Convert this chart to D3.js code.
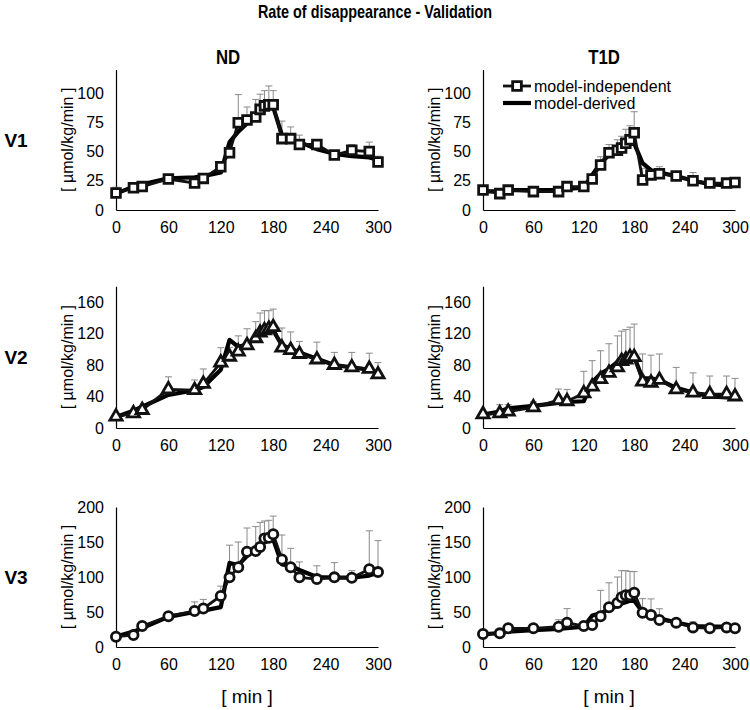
<!DOCTYPE html>
<html>
<head>
<meta charset="utf-8">
<script src="https://cdn.jsdelivr.net/npm/d3@7"></script>
<style>
  html, body { margin: 0; padding: 0; background: #fff; }
  svg { display: block; }
  text { font-family: "Liberation Sans", Arial, sans-serif; fill: #000; }
</style>
</head>
<body>
<svg id="chart" width="750" height="710"></svg>
<script>
// ---------- DATA ----------
const times = [0,20,30,60,90,100,120,130,140,150,160,165,170,175,180,190,200,210,230,250,270,290,300];
const xTicks = [0,60,120,180,240,300];
const rowLabels = ["V1","V2","V3"];
const colLabels = ["ND","T1D"];
const yTicksV1 = [0,25,50,75,100];
const yTicksV2 = [0,40,80,120,160];
const yTicksV3 = [0,50,100,150,200];
const yMax = [120,180,200];
const legendLabels = ["model-independent","model-derived"];

// ND V1
const ndV1Obs   = [14.5,19,20,26.5,23,27,37,49,74.6,77,79.5,86,89,90,90,61,61,56,56,47,51,50,41];
const ndV1Err   = [5,2,2,2,2,2,3,4,24,11,15,13,13,16,12,15,10,8,4,3,5,8,5];
const ndV1Model = [14,20,22,27,28,29,32,58,67,74,80,83,86,88,88,64,60,58,52,48,46,45,43];
// T1D V1
const t1dV1Obs   = [17,14,17,15.7,15.7,20,20,26.5,38.5,49,51,53,57,60,66,25.6,30,31,29,25,23,23,23.6];
const t1dV1Err   = [2,2,2,1,1,2,2,3,7,7,9,10,12,12,18,10,4,6,3,7,2,2,2];
const t1dV1Model = [16,16,17,17,17,18,19,30,40,47,50,52,54,56,57,40,34,32,29,25,22,21,21];
// ND V2
const ndV2Obs   = [14.4,18.6,22.9,49,48,56,83,90.5,97,105,114,121,124,126,128,102,99,94,87,80,77,75,68];
const ndV2Err   = [2,3,3,16,13,19,19,12,20,21,21,25,25,23,23,25,23,16,22,16,19,20,15];
const ndV2Model = [14,22,27,42,48,52,74,112,103,106,115,118,121,123,124,105,101,96,88,80,77,74,70];
// T1D V2
const t1dV2Obs   = [17.4,18.6,20.7,26.2,35.5,34,44,52.5,62,70,77,85,87,90,90,59,57.5,61,49,45,43,43,40];
const t1dV2Err   = [2,11,9,7,14,15,28,33,36,37,40,38,38,38,42,35,35,33,28,25,23,23,23];
const t1dV2Model = [17,21,25,28,32,33,34,58,69,75,84,86,88,89,90,63,63,61,51,45,40,39,38];
// ND V3
const ndV3Obs   = [14.7,17,30,44,51.4,55,73,99.5,114,136,137,143,155,156,161,125,114,99.5,97,99.5,99,111,107];
const ndV3Err   = [2,2,3,3,13,13,14,46,36,34,35,35,25,25,26,35,27,22,19,21,10,55,45];
const ndV3Model = [15,22,27,43,50,52,57,120,117,130,142,146,150,153,154,118,116,110,100,99,99,102,106];
// T1D V3
const t1dV3Obs   = [18.6,19.5,26.7,26.7,29,34.8,30,31.4,44,56.7,63,71,74,74,77.6,49,45.7,38.6,34.8,28,26.7,28,26.7];
const t1dV3Err   = [2,2,2,3,10,20,6,6,37,35,37,38,35,34,30,20,23,16,5,8,3,4,5];
const t1dV3Model = [18,20,22,24,26,27,29,45,48,54,59,62,64,66,66,50,44,41,35,30,29,29,29];

// ---------- LAYOUT ----------
const svg = d3.select("#chart");
const cols = [{x0:116, x1:378}, {x0:483, x1:735}];
const rows = [{bottom:210, top:69.6}, {bottom:428, top:286.25}, {bottom:647, top:507}];
const yTicksAll = [yTicksV1, yTicksV2, yTicksV3];
const markers = ["square","triangle","circle"];

const panels = [
  {r:0,c:0,obs:ndV1Obs,err:ndV1Err,model:ndV1Model},
  {r:0,c:1,obs:t1dV1Obs,err:t1dV1Err,model:t1dV1Model},
  {r:1,c:0,obs:ndV2Obs,err:ndV2Err,model:ndV2Model},
  {r:1,c:1,obs:t1dV2Obs,err:t1dV2Err,model:t1dV2Model},
  {r:2,c:0,obs:ndV3Obs,err:ndV3Err,model:ndV3Model},
  {r:2,c:1,obs:t1dV3Obs,err:t1dV3Err,model:t1dV3Model}
];

// Title (condensed bold)
svg.append("text").attr("transform","translate(375,18) scale(0.8,1)").attr("text-anchor","middle")
  .style("font-weight","bold").style("font-size","18px")
  .text("Rate of disappearance - Validation");

// Column labels (condensed bold)
const colCenters = [228, 604];
colLabels.forEach((lab,i)=>{
  svg.append("text").attr("transform",`translate(${colCenters[i]},64) scale(0.84,1)`).attr("text-anchor","middle")
    .style("font-weight","bold").style("font-size","20px").text(lab);
});
// Row labels
rowLabels.forEach((lab,i)=>{
  svg.append("text").attr("x",16).attr("y",(rows[i].top+rows[i].bottom)/2+7).attr("text-anchor","middle")
    .style("font-weight","bold").style("font-size","19px").text(lab);
});

function markerPath(type){
  if(type==="square") return d3.symbol().type(d3.symbolSquare).size(76)();
  if(type==="triangle") return d3.symbol().type(d3.symbolTriangle).size(64)();
  return null;
}

panels.forEach(p=>{
  const col = cols[p.c], row = rows[p.r];
  const x = d3.scaleLinear().domain([0,300]).range([col.x0,col.x1]);
  const y = d3.scaleLinear().domain([0,yMax[p.r]]).range([row.bottom,row.top]);
  const g = svg.append("g");

  // axes (no tick marks)
  const xAxis = d3.axisBottom(x).tickValues(xTicks).tickSize(0).tickPadding(12);
  const yAxis = d3.axisLeft(y).tickValues(yTicksAll[p.r]).tickSize(0).tickPadding(12);
  const gx = g.append("g").attr("transform",`translate(0,${row.bottom})`).call(xAxis);
  const gy = g.append("g").attr("transform",`translate(${col.x0},0)`).call(yAxis);
  [gx,gy].forEach(a=>{
    a.select(".domain").attr("stroke","#000").attr("stroke-width",1.2);
    a.selectAll("text").style("font-size","16px").style("font-family",'"Liberation Sans",Arial,sans-serif').attr("fill","#000");
  });

  // y label
  g.append("text")
    .attr("transform",`translate(${col.x0-43},${(row.top+row.bottom)/2}) rotate(-90)`)
    .attr("text-anchor","middle").style("font-size","16px").text("[ µmol/kg/min ]");
  if(p.r===2){
    g.append("text").attr("x",(col.x0+col.x1)/2).attr("y",703).attr("text-anchor","middle")
      .style("font-size","19px").text("[ min ]");
  }

  const obs = times.map((t,i)=>({t, v:p.obs[i], e:p.err[i], m:p.model[i]}));

  // error bars (upper only)
  const eb = g.append("g").attr("stroke","#8a8a8a").attr("stroke-width",1);
  obs.forEach(d=>{
    eb.append("line").attr("x1",x(d.t)).attr("x2",x(d.t)).attr("y1",y(d.v)).attr("y2",y(d.v+d.e));
    eb.append("line").attr("x1",x(d.t)-3.5).attr("x2",x(d.t)+3.5).attr("y1",y(d.v+d.e)).attr("y2",y(d.v+d.e));
  });

  // model-derived thick line
  g.append("path").datum(obs).attr("fill","none").attr("stroke","#000").attr("stroke-width",4.2)
    .attr("stroke-linejoin","round")
    .attr("d",d3.line().x(d=>x(d.t)).y(d=>y(d.m)));
  // model-independent line
  g.append("path").datum(obs).attr("fill","none").attr("stroke","#111").attr("stroke-width",2.8)
    .attr("stroke-linejoin","round")
    .attr("d",d3.line().x(d=>x(d.t)).y(d=>y(d.v)));

  // markers
  const mt = markers[p.r];
  obs.forEach(d=>{
    if(mt==="circle"){
      g.append("circle").attr("cx",x(d.t)).attr("cy",y(d.v)).attr("r",4.6)
        .attr("fill","#fff").attr("stroke","#111").attr("stroke-width",2.8);
    } else {
      g.append("path").attr("d",markerPath(mt)).attr("transform",`translate(${x(d.t)},${y(d.v)})`)
        .attr("fill","#fff").attr("stroke","#111").attr("stroke-width",2.8);
    }
  });

  // legend in T1D V1
  if(p.r===0 && p.c===1){
    const lx0 = 503, lx1 = 531;
    const lg = g.append("g");
    lg.append("line").attr("x1",lx0).attr("x2",lx1).attr("y1",86).attr("y2",86).attr("stroke","#111").attr("stroke-width",2.8);
    lg.append("path").attr("d",markerPath("square")).attr("transform",`translate(${(lx0+lx1)/2},86)`)
      .attr("fill","#fff").attr("stroke","#111").attr("stroke-width",2.8);
    lg.append("text").attr("x",lx1+3).attr("y",91.5).style("font-size","16px").text(legendLabels[0]);
    lg.append("line").attr("x1",lx0).attr("x2",lx1).attr("y1",103).attr("y2",103).attr("stroke","#000").attr("stroke-width",4.2);
    lg.append("text").attr("x",lx1+3).attr("y",108.5).style("font-size","16px").text(legendLabels[1]);
  }
});
</script>
</body>
</html>
